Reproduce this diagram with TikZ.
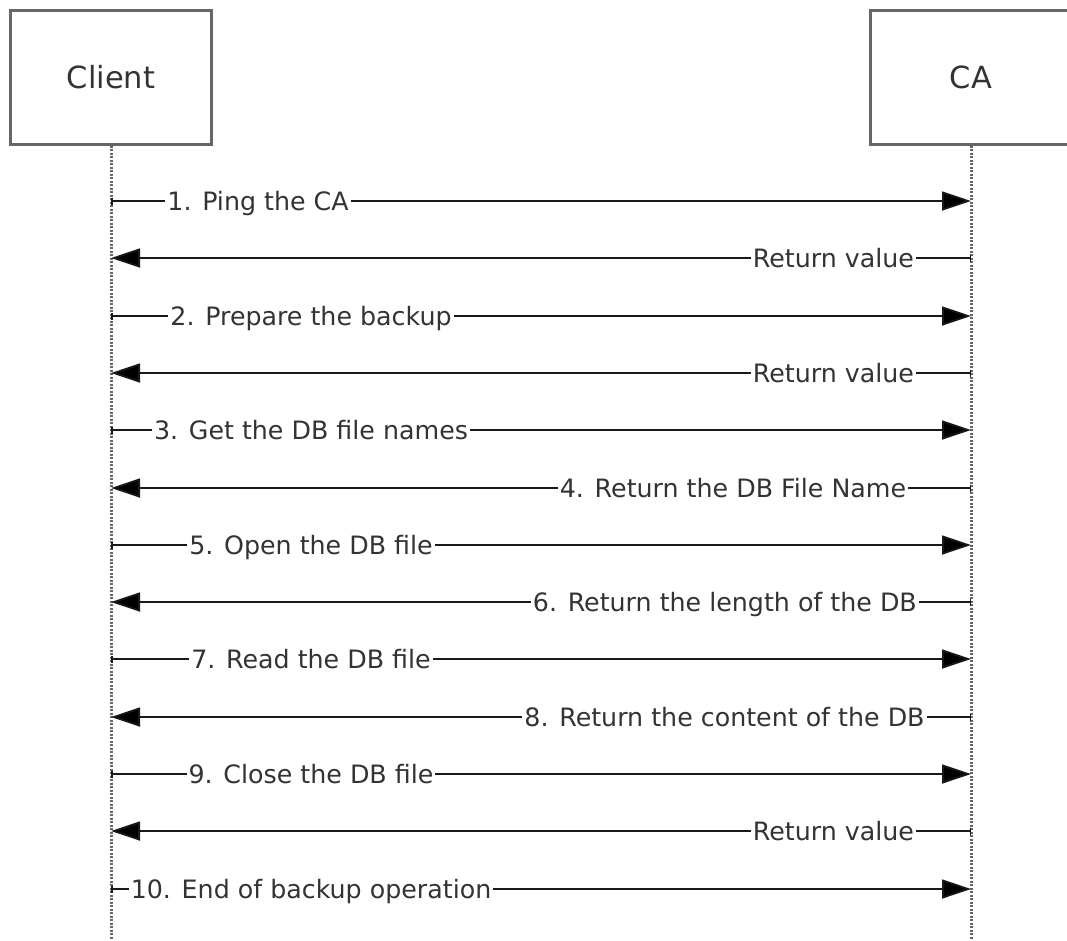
\documentclass[tikz,border=0pt]{standalone}
\usepackage{fontspec}
\setmainfont{DejaVu Sans}
\usetikzlibrary{arrows.meta}

\begin{document}
\begin{tikzpicture}[x=1pt, y=-1pt,
    actor/.style={draw=black!60, line width=3pt, minimum width=201pt, minimum height=134pt,
        font=\fontsize{30.5}{36}\selectfont, text=black!80},
    life/.style={black!60, line width=3pt, dash pattern=on 2pt off 1.5pt},
    msg/.style={black!90, line width=1.8pt, {Bar[width=7pt,line width=1.5pt]}-{Triangle[length=29pt,width=19pt,fill=black]}},
    lbl/.style={fill=white, inner xsep=2pt, inner ysep=1pt, anchor=base, yshift=-9pt,
        font=\fontsize{25.3}{30}\selectfont, text=black!80}]

    % page
    \clip (0,0) rectangle (1067,940);

    % actors
    \node[actor] (client) at (111,77) {Client};
    \node[actor] (ca) at (971,77) {CA};

    % lifelines
    \coordinate (client end) at (111,940);
    \coordinate (ca end) at (971,940);
    \draw[life] (client.south) -- (client end);
    \draw[life] (ca.south) -- (ca end);

    % ping
    \draw[msg] (client |- 0,201) -- (ca |- 0,201) node[lbl, pos=0.171] {1. Ping the CA};
    \draw[msg] (ca |- 0,258) -- (client |- 0,258) node[lbl, pos=0.16] {Return value};

    % prepare
    \draw[msg] (client |- 0,316) -- (ca |- 0,316) node[lbl, pos=0.2326] {2. Prepare the backup};
    \draw[msg] (ca |- 0,373) -- (client |- 0,373) node[lbl, pos=0.16] {Return value};

    % file names
    \draw[msg] (client |- 0,430) -- (ca |- 0,430) node[lbl, pos=0.2326] {3. Get the DB file names};
    \draw[msg] (ca |- 0,488) -- (client |- 0,488) node[lbl, pos=0.2767] {4. Return the DB File Name};

    % open
    \draw[msg] (client |- 0,545) -- (ca |- 0,545) node[lbl, pos=0.2326] {5. Open the DB file};
    \draw[msg] (ca |- 0,602) -- (client |- 0,602) node[lbl, pos=0.2862] {6. Return the length of the DB};

    % read
    \draw[msg] (client |- 0,659) -- (ca |- 0,659) node[lbl, pos=0.2326] {7. Read the DB file};
    \draw[msg] (ca |- 0,717) -- (client |- 0,717) node[lbl, pos=0.2866] {8. Return the content of the DB};

    % close
    \draw[msg] (client |- 0,774) -- (ca |- 0,774) node[lbl, pos=0.2326] {9. Close the DB file};
    \draw[msg] (ca |- 0,831) -- (client |- 0,831) node[lbl, pos=0.16] {Return value};

    % end
    \draw[msg] (client |- 0,889) -- (ca |- 0,889) node[lbl, pos=0.2326] {10. End of backup operation};
\end{tikzpicture}
\end{document}
